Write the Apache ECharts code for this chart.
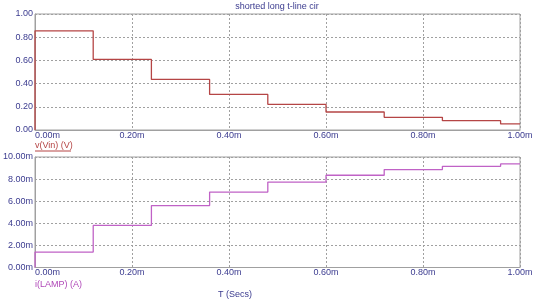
<!DOCTYPE html>
<html><head><meta charset="utf-8">
<script src="https://cdn.jsdelivr.net/npm/echarts@6/dist/echarts.min.js"></script>
<style>html,body{margin:0;padding:0;background:#fff}#c{width:540px;height:306px}</style>
</head><body><div id="c"></div>
<script>
// Time of each point (ms); steps every 0.12 ms
var times = [0, 0, 0.12, 0.24, 0.36, 0.48, 0.60, 0.72, 0.84, 0.96, 1.00];
// v(Vin) in V
var vin = [0, 0.855, 0.608, 0.436, 0.307, 0.221, 0.155, 0.109, 0.080, 0.052, 0.052];
// i(LAMP) in mA
var ilamp = [0, 1.40, 3.81, 5.60, 6.83, 7.73, 8.35, 8.86, 9.16, 9.37, 9.37];
var title = 'shorted long t-line cir';
var vinLabel = 'v(Vin) (V)';
var ilampLabel = 'i(LAMP) (A)';
var xLabel = 'T (Secs)';

var labelColor = '#3b3b8f';
var gridColor = '#a0a0a0';
var font = 'Liberation Sans, Arial, sans-serif';

function pairs(ys){ return times.map(function(t,i){ return [t, ys[i]]; }); }

var chart = echarts.init(document.getElementById('c'), null, {renderer:'canvas'});
function xAxis(idx){
  return {
    type:'value', gridIndex:idx, min:0, max:1, interval:0.2,
    axisLine:{show:true, lineStyle:{color:gridColor, width:1}},
    axisTick:{show:false},
    splitLine:{show:true, lineStyle:{color:gridColor, type:[2,2], width:1}},
    axisLabel:{color:labelColor, fontSize:9, fontFamily:font, margin:1, alignMinLabel:'left',
      formatter:function(v){ return v.toFixed(2)+'m'; }}
  };
}
function yAxis(idx, max, interval, fmt){
  return {
    type:'value', gridIndex:idx, min:0, max:max, interval:interval,
    axisLine:{show:true, lineStyle:{color:gridColor, width:1}},
    axisTick:{show:false},
    splitLine:{show:true, lineStyle:{color:gridColor, type:[2,2], width:1}},
    axisLabel:{color:labelColor, fontSize:9, fontFamily:font, margin:2, formatter:fmt}
  };
}
chart.setOption({
  animation:false,
  backgroundColor:'#fff',
  title:{text:title, left:277, top:2, textAlign:'center', padding:0,
    textStyle:{color:labelColor, fontSize:9, fontWeight:'normal', fontFamily:font}},
  grid:[
    {left:35, right:20, top:14, height:116, show:true, borderColor:gridColor, borderWidth:1},
    {left:35, right:20, top:157, height:110.5, show:true, borderColor:gridColor, borderWidth:1}
  ],
  xAxis:[xAxis(0), xAxis(1)],
  yAxis:[
    yAxis(0, 1, 0.2, function(v){ return v.toFixed(2); }),
    yAxis(1, 10, 2, function(v){ return v.toFixed(2)+'m'; })
  ],
  series:[
    {type:'line', xAxisIndex:0, yAxisIndex:0, data:pairs(vin), step:'end', symbol:'none',
      lineStyle:{color:'#b54545', width:1.3}},
    {type:'line', xAxisIndex:1, yAxisIndex:1, data:pairs(ilamp), step:'end', symbol:'none',
      lineStyle:{color:'#c062c6', width:1.3}}
  ],
  graphic:[
    {type:'text', left:35, top:141, style:{text:vinLabel, fill:'#b54545', fontSize:9, fontFamily:font}},
    {type:'line', shape:{x1:35, y1:151, x2:71, y2:151}, style:{stroke:'#b54545', lineWidth:1}},
    {type:'text', left:35, top:280, style:{text:ilampLabel, fill:'#b048b8', fontSize:9, fontFamily:font}},
    {type:'text', left:218, top:290, style:{text:xLabel, fill:labelColor, fontSize:9, fontFamily:font}}
  ]
});
</script></body></html>
